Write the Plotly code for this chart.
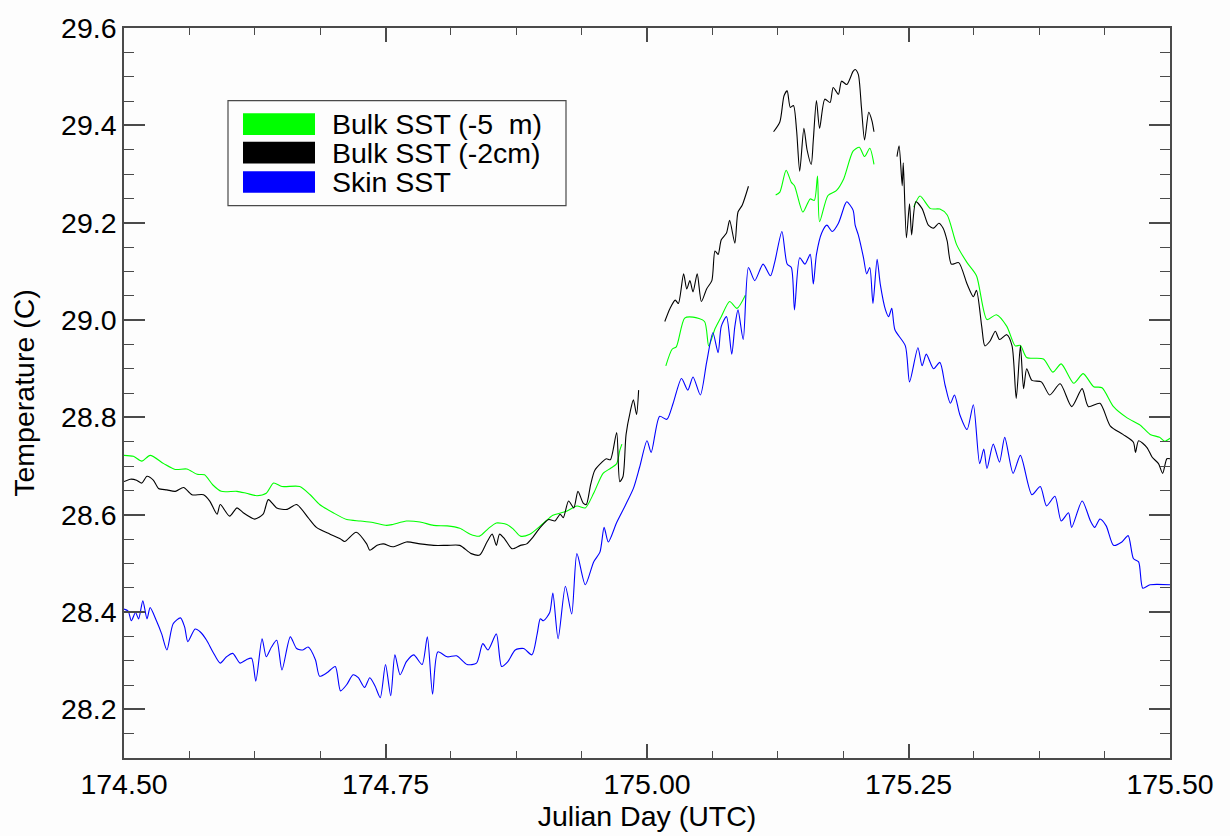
import plotly.graph_objects as go

# ---------------- data (Julian day, temperature in C); None = gap in record ----------------
green_day = [
    174.500, 174.509, 174.517, 174.525, 174.538, 174.549, 174.560, 174.570, 174.577, 174.585,
    174.593, 174.608, 174.617, 174.627, 174.636, 174.643, 174.651, 174.668, 174.678, 174.687,
    174.700, 174.713, 174.726, 174.738, 174.751, 174.757, 174.770, 174.783, 174.796, 174.809,
    174.821, 174.831, 174.840, 174.848, 174.856, 174.866, 174.872, 174.879, 174.888, 174.898,
    174.907, 174.910, 174.923, 174.933, 174.941, 174.949, 174.958, 174.965, 174.971, 174.974,
    174.976, None,
    175.018, 175.024, 175.028, 175.036, 175.044, 175.055, 175.059, 175.065, 175.071, 175.079,
    175.086, 175.094, None,
    175.123, 175.127, 175.133, 175.138, 175.141, 175.149, 175.156, 175.160, 175.163, 175.165,
    175.173, 175.181, 175.188, 175.197, 175.203, 175.208, 175.213, 175.217, None,
    175.255, 175.261, 175.271, 175.280, 175.287, 175.296, 175.306, 175.315, 175.325, 175.334,
    175.344, 175.352, 175.357, 175.363, 175.379, 175.388, 175.396, 175.408, 175.417, 175.427,
    175.435, 175.446, 175.459, 175.471, 175.481, 175.490, 175.495, 175.500,
]
green_temp = [
    28.722, 28.720, 28.710, 28.722, 28.705, 28.693, 28.694, 28.683, 28.682, 28.661,
    28.648, 28.648, 28.644, 28.639, 28.644, 28.665, 28.658, 28.658, 28.641, 28.621,
    28.604, 28.590, 28.587, 28.584, 28.578, 28.580, 28.587, 28.585, 28.578, 28.577,
    28.572, 28.560, 28.556, 28.571, 28.583, 28.580, 28.571, 28.556, 28.560, 28.577,
    28.594, 28.599, 28.607, 28.618, 28.614, 28.644, 28.685, 28.695, 28.705, 28.732,
    28.745, None,
    28.906, 28.940, 28.945, 29.004, 29.006, 28.997, 28.947, 28.982, 29.007, 29.038,
    29.024, 29.051, None,
    29.257, 29.263, 29.308, 29.283, 29.276, 29.222, 29.249, 29.246, 29.296, 29.202,
    29.256, 29.266, 29.290, 29.347, 29.355, 29.336, 29.353, 29.320, None,
    29.232, 29.255, 29.229, 29.228, 29.216, 29.155, 29.118, 29.091, 29.001, 29.011,
    28.987, 28.947, 28.948, 28.923, 28.920, 28.893, 28.910, 28.870, 28.890, 28.863,
    28.861, 28.822, 28.799, 28.785, 28.765, 28.759, 28.751, 28.757,
]

black_day = [
    174.500, 174.506, 174.512, 174.517, 174.522, 174.528, 174.533, 174.541, 174.549, 174.557,
    174.565, 174.576, 174.582, 174.589, 174.592, 174.601, 174.608, 174.614, 174.625, 174.633,
    174.638, 174.646, 174.656, 174.665, 174.676, 174.684, 174.697, 174.707, 174.711, 174.722,
    174.732, 174.735, 174.742, 174.748, 174.757, 174.770, 174.783, 174.796, 174.809, 174.821,
    174.832, 174.840, 174.847, 174.852, 174.856, 174.859, 174.864, 174.871, 174.879, 174.885,
    174.891, 174.898, 174.906, 174.912, 174.917, 174.920, 174.925, 174.930, 174.934, 174.939,
    174.942, 174.946, 174.950, 174.957, 174.961, 174.965, 174.971, 174.974, 174.977, 174.980,
    174.984, 174.987, 174.990, 174.992, None,
    175.017, 175.022, 175.027, 175.030, 175.035, 175.038, 175.041, 175.044, 175.048, 175.052,
    175.057, 175.062, 175.065, 175.068, 175.071, 175.076, 175.079, 175.084, 175.087, 175.091,
    175.097, None,
    175.121, 175.127, 175.131, 175.134, 175.137, 175.140, 175.143, 175.146, 175.150, 175.153,
    175.157, 175.159, 175.162, 175.165, 175.170, 175.175, 175.178, 175.183, 175.186, 175.191,
    175.197, 175.199, 175.202, 175.205, 175.208, 175.212, 175.215, 175.217, None,
    175.239, 175.241, 175.244, 175.245, 175.248, 175.251, 175.253, 175.257, 175.263, 175.269,
    175.274, 175.279, 175.283, 175.287, 175.291, 175.298, 175.306, 175.312, 175.315, 175.320,
    175.323, 175.328, 175.333, 175.337, 175.344, 175.349, 175.353, 175.357, 175.360, 175.363,
    175.368, 175.377, 175.385, 175.395, 175.406, 175.416, 175.422, 175.433, 175.443, 175.455,
    175.465, 175.467, 175.470, 175.478, 175.483, 175.489, 175.493, 175.497, 175.500,
]
black_temp = [
    28.668, 28.673, 28.671, 28.665, 28.679, 28.671, 28.654, 28.651, 28.648, 28.656,
    28.641, 28.641, 28.628, 28.601, 28.621, 28.597, 28.614, 28.604, 28.591, 28.601,
    28.631, 28.614, 28.611, 28.621, 28.594, 28.574, 28.560, 28.550, 28.545, 28.564,
    28.540, 28.527, 28.537, 28.540, 28.534, 28.544, 28.540, 28.537, 28.537, 28.537,
    28.520, 28.517, 28.544, 28.560, 28.537, 28.560, 28.550, 28.530, 28.537, 28.540,
    28.554, 28.574, 28.590, 28.587, 28.601, 28.594, 28.628, 28.614, 28.648, 28.624,
    28.621, 28.661, 28.691, 28.708, 28.715, 28.713, 28.769, 28.668, 28.678, 28.765,
    28.812, 28.836, 28.806, 28.856, None,
    28.997, 29.024, 29.041, 29.034, 29.095, 29.064, 29.081, 29.058, 29.095, 29.038,
    29.064, 29.081, 29.142, 29.135, 29.165, 29.179, 29.205, 29.158, 29.222, 29.236,
    29.275, None,
    29.387, 29.407, 29.461, 29.471, 29.437, 29.441, 29.390, 29.306, 29.394, 29.350,
    29.320, 29.370, 29.451, 29.394, 29.454, 29.447, 29.478, 29.464, 29.491, 29.484,
    29.511, 29.515, 29.505, 29.437, 29.370, 29.427, 29.410, 29.387, None,
    29.336, 29.358, 29.276, 29.323, 29.169, 29.239, 29.175, 29.243, 29.229, 29.195,
    29.189, 29.199, 29.189, 29.162, 29.115, 29.118, 29.074, 29.048, 29.061, 28.987,
    28.947, 28.957, 28.977, 28.960, 28.970, 28.947, 28.839, 28.947, 28.859, 28.900,
    28.876, 28.873, 28.846, 28.869, 28.822, 28.859, 28.822, 28.829, 28.782, 28.765,
    28.749, 28.728, 28.752, 28.738, 28.718, 28.705, 28.685, 28.715, 28.715,
]

blue_day = [
    174.500, 174.504, 174.507, 174.511, 174.514, 174.518, 174.522, 174.525, 174.531, 174.536,
    174.541, 174.547, 174.554, 174.558, 174.561, 174.568, 174.573, 174.579, 174.585, 174.592,
    174.598, 174.604, 174.611, 174.617, 174.622, 174.626, 174.632, 174.636, 174.641, 174.646,
    174.651, 174.659, 174.665, 174.671, 174.676, 174.683, 174.687, 174.694, 174.702, 174.707,
    174.713, 174.719, 174.724, 174.730, 174.735, 174.740, 174.745, 174.750, 174.755, 174.759,
    174.764, 174.770, 174.777, 174.785, 174.790, 174.795, 174.800, 174.809, 174.818, 174.828,
    174.837, 174.843, 174.848, 174.856, 174.861, 174.867, 174.874, 174.882, 174.890, 174.895,
    174.898, 174.901, 174.907, 174.910, 174.915, 174.922, 174.928, 174.933, 174.941, 174.949,
    174.955, 174.959, 174.963, 174.971, 174.979, 174.987, 174.993, 175.000, 175.004, 175.012,
    175.019, 175.025, 175.033, 175.039, 175.044, 175.051, 175.057, 175.063, 175.068, 175.071,
    175.076, 175.081, 175.084, 175.087, 175.092, 175.097, 175.103, 175.111, 175.118, 175.122,
    175.129, 175.134, 175.138, 175.141, 175.146, 175.151, 175.156, 175.159, 175.162, 175.167,
    175.172, 175.177, 175.183, 175.189, 175.191, 175.197, 175.199, 175.202, 175.207, 175.210,
    175.213, 175.216, 175.220, 175.223, 175.228, 175.231, 175.234, 175.237, 175.247, 175.251,
    175.259, 175.263, 175.267, 175.274, 175.280, 175.285, 175.290, 175.294, 175.299, 175.306,
    175.312, 175.318, 175.322, 175.325, 175.331, 175.337, 175.342, 175.350, 175.357, 175.368,
    175.376, 175.382, 175.390, 175.396, 175.403, 175.406, 175.416, 175.424, 175.428, 175.433,
    175.439, 175.446, 175.454, 175.460, 175.465, 175.470, 175.474, 175.481, 175.500,
]
blue_temp = [
    28.406, 28.402, 28.382, 28.399, 28.386, 28.423, 28.386, 28.409, 28.382, 28.355,
    28.322, 28.376, 28.388, 28.369, 28.339, 28.365, 28.359, 28.342, 28.318, 28.295,
    28.308, 28.315, 28.295, 28.302, 28.305, 28.258, 28.345, 28.308, 28.328, 28.342,
    28.281, 28.349, 28.325, 28.322, 28.328, 28.302, 28.268, 28.275, 28.288, 28.238,
    28.251, 28.271, 28.265, 28.245, 28.265, 28.248, 28.224, 28.292, 28.228, 28.312,
    28.271, 28.298, 28.312, 28.292, 28.349, 28.231, 28.318, 28.308, 28.310, 28.292,
    28.295, 28.335, 28.322, 28.355, 28.288, 28.298, 28.322, 28.325, 28.312, 28.355,
    28.386, 28.382, 28.399, 28.439, 28.345, 28.453, 28.396, 28.520, 28.456, 28.503,
    28.523, 28.574, 28.544, 28.584, 28.618, 28.654, 28.698, 28.752, 28.728, 28.802,
    28.796, 28.829, 28.880, 28.856, 28.883, 28.846, 28.913, 28.974, 28.933, 28.987,
    29.007, 28.930, 28.987, 29.021, 28.960, 29.108, 29.081, 29.115, 29.091, 29.118,
    29.182, 29.115, 29.108, 29.021, 29.128, 29.115, 29.135, 29.074, 29.135, 29.179,
    29.195, 29.182, 29.199, 29.236, 29.243, 29.226, 29.195, 29.175, 29.128, 29.095,
    29.108, 29.034, 29.125, 29.074, 29.021, 29.007, 29.024, 28.980, 28.947, 28.873,
    28.943, 28.906, 28.930, 28.900, 28.913, 28.866, 28.829, 28.846, 28.806, 28.775,
    28.826, 28.705, 28.735, 28.695, 28.745, 28.708, 28.759, 28.685, 28.722, 28.641,
    28.658, 28.618, 28.638, 28.587, 28.604, 28.574, 28.628, 28.587, 28.574, 28.591,
    28.577, 28.537, 28.544, 28.557, 28.510, 28.503, 28.449, 28.456, 28.456,
]

series_names = ["Bulk SST (-5\u00a0 m)", "Bulk SST (-2cm)", "Skin SST"]
series_colors = ["#00ff00", "#000000", "#0000ff"]

x_tickvals = [174.50, 174.75, 175.00, 175.25, 175.50]
x_ticktext = ["174.50", "174.75", "175.00", "175.25", "175.50"]
y_tickvals = [28.2, 28.4, 28.6, 28.8, 29.0, 29.2, 29.4, 29.6]
y_ticktext = ["28.2", "28.4", "28.6", "28.8", "29.0", "29.2", "29.4", "29.6"]

# ---------------- figure ----------------
W, H = 1230, 836
ML, MR, MT, MB = 124, 60, 16, 76
FONT = "Liberation Sans, Arial, Helvetica, sans-serif"
FS = 28.5
AX = "#4a4a4a"
BG = "#fdfdfd"

fig = go.Figure()
for xs, ys, name, col in zip([green_day, black_day, blue_day],
                             [green_temp, black_temp, blue_temp],
                             series_names, series_colors):
    fig.add_trace(go.Scatter(x=xs, y=ys, mode="lines", name=name,
                             line=dict(color=col, width=1.1, shape="spline", smoothing=0.7),
                             connectgaps=False, showlegend=False))

axis_common = dict(showgrid=False, zeroline=False, showline=True, linecolor=AX,
                   linewidth=1.5, mirror="ticks", ticks="inside", tickcolor=AX,
                   tickwidth=1.5, ticklabeloverflow="allow",
                   tickfont=dict(family=FONT, size=FS, color="#000"))

fig.update_xaxes(range=[174.5, 175.5], tickvals=x_tickvals, ticktext=x_ticktext,
                 ticklen=14,
                 minor=dict(ticks="inside", ticklen=7, dtick=0.0625, tick0=174.5,
                            tickcolor=AX, tickwidth=1.2, showgrid=False),
                 title=dict(text="Julian Day (UTC)", font=dict(family=FONT, size=FS, color="#000"),
                            standoff=4),
                 **axis_common)
fig.update_yaxes(range=[28.1, 29.6002], tickvals=y_tickvals, ticktext=y_ticktext,
                 ticklen=21,
                 minor=dict(ticks="inside", ticklen=10, dtick=0.05, tick0=28.1,
                            tickcolor=AX, tickwidth=1.2, showgrid=False),
                 title=dict(text="Temperature (C)", font=dict(family=FONT, size=FS, color="#000"),
                            standoff=18),
                 **axis_common)

# ---------------- custom legend (pixel layout -> paper coords) ----------------
PW, PH = W - ML - MR, H - MT - MB
def px(xp):
    return (xp - ML) / PW
def py(yp):
    return (H - MB - yp) / PH

shapes = [dict(type="rect", xref="paper", yref="paper",
               x0=px(228), x1=px(566), y0=py(197), y1=py(90),
               line=dict(color=AX, width=1.2), fillcolor=BG, layer="above")]
annotations = []
row_tops = [103, 132, 162]
for name, col, top in zip(series_names, series_colors, row_tops):
    shapes.append(dict(type="rect", xref="paper", yref="paper",
                       x0=px(243), x1=px(315), y0=py(top + 22), y1=py(top),
                       line=dict(width=0), fillcolor=col, layer="above"))
    annotations.append(dict(xref="paper", yref="paper", x=px(330), y=py(top + 11),
                            text=name, showarrow=False, xanchor="left", yanchor="middle",
                            font=dict(family=FONT, size=FS, color="#000")))

fig.update_layout(width=W, height=H, margin=dict(l=ML, r=MR, t=MT, b=MB),
                  paper_bgcolor=BG, plot_bgcolor=BG,
                  shapes=shapes, annotations=annotations, showlegend=False)

fig.write_html("out.html")
